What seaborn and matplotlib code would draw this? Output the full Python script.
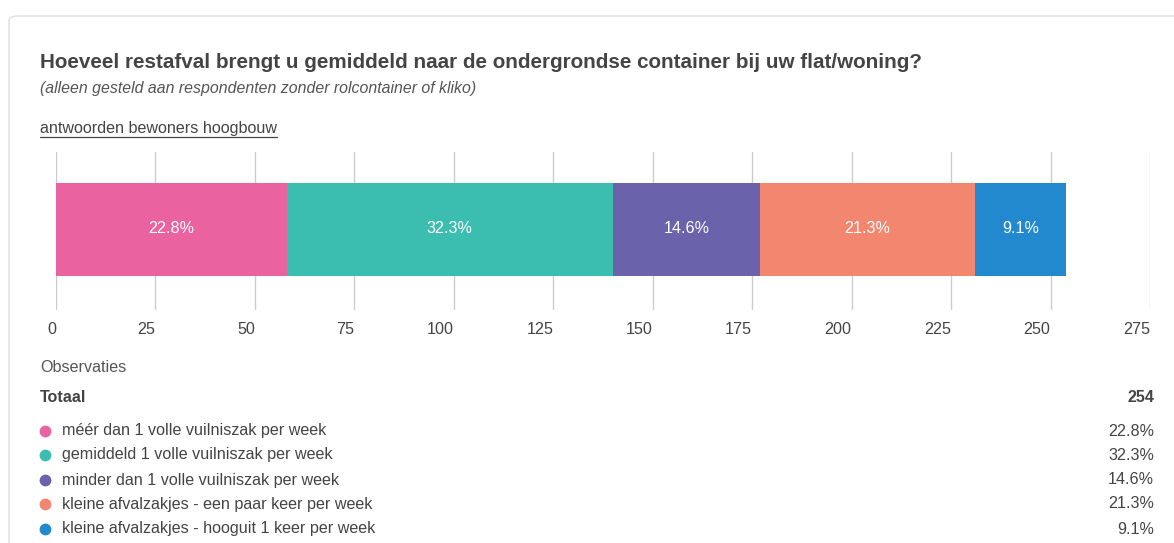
import matplotlib
matplotlib.use("Agg")
import matplotlib.pyplot as plt
from matplotlib.patches import FancyBboxPatch
import numpy as np
import pandas as pd
import seaborn as sns

# data
categories = [
    "méér dan 1 volle vuilniszak per week",
    "gemiddeld 1 volle vuilniszak per week",
    "minder dan 1 volle vuilniszak per week",
    "kleine afvalzakjes - een paar keer per week",
    "kleine afvalzakjes - hooguit 1 keer per week",
]
counts = [58, 82, 37, 54, 23]
percent_labels = ["22.8%", "32.3%", "14.6%", "21.3%", "9.1%"]
colors = ["#EA62A0", "#3BBEAF", "#6A63AC", "#F2866F", "#2289CF"]
xticks = [0, 25, 50, 75, 100, 125, 150, 175, 200, 225, 250, 275]
total = 254

sns.set_theme(style="white")
plt.rcParams["font.family"] = ["Liberation Sans", "DejaVu Sans"]

W, H = 1174, 543
fig = plt.figure(figsize=(W / 100, H / 100), dpi=100)
fig.patch.set_facecolor("white")

def fx(px):
    return px / W

def fy(py):
    return 1 - py / H

# card border
card = FancyBboxPatch((fx(9), fy(560)), fx(1200), fy(16) - fy(560),
                      boxstyle="round,pad=0,rounding_size=0.008",
                      transform=fig.transFigure, facecolor="none",
                      edgecolor="#e4e4e4", linewidth=1.2, zorder=-5)
fig.patches.append(card)

txt = "#444444"
fs = 11.6
fig.text(fx(40), fy(62), "Hoeveel restafval brengt u gemiddeld naar de ondergrondse container bij uw flat/woning?",
         fontsize=14.9, fontweight="bold", color=txt, va="center")
fig.text(fx(40), fy(88), "(alleen gesteld aan respondenten zonder rolcontainer of kliko)",
         fontsize=11.4, style="italic", color="#555555", va="center")
link = fig.text(fx(40), fy(128), "antwoorden bewoners hoogbouw", fontsize=fs, color=txt, va="center")

# underline for the link
fig.canvas.draw()
bb = link.get_window_extent()
fig.add_artist(plt.Line2D([bb.x0 / W, bb.x1 / W], [fy(137), fy(137)], transform=fig.transFigure,
                          color=txt, linewidth=0.9))

# stacked bar axis
ax = fig.add_axes([fx(56), fy(310), fx(1150) - fx(56), fy(152) - fy(310)])
ax.patch.set_alpha(0)
cum = np.cumsum(counts)
df = pd.DataFrame({"cum": cum, "row": ["a"] * len(cum)})
for i in range(len(cum) - 1, -1, -1):
    sns.barplot(data=df.iloc[[i]], x="cum", y="row", orient="h", color=colors[i],
                saturation=1, width=1.0, linewidth=0, ax=ax, zorder=2)
starts = np.concatenate([[0], cum[:-1]])
for s, c, lab in zip(starts, counts, percent_labels):
    ax.text(s + c / 2, -0.01, lab, color="white", ha="center", va="center", fontsize=fs, zorder=3)

ax.set_xlim(0, 275)
ax.set_ylim(0.87, -0.83)
ax.set_xticks(xticks)
ax.set_xticklabels([str(t) for t in xticks], ha="right")
ax.set_yticks([])
ax.set_xlabel("")
ax.set_ylabel("")
ax.grid(axis="x", color="#cccccc", linewidth=1, zorder=0)
ax.set_axisbelow(True)
for sp in ax.spines.values():
    sp.set_visible(False)
ax.tick_params(axis="x", length=0, pad=9, labelsize=fs, labelcolor=txt)

# observations table
fig.text(fx(40), fy(368), "Observaties", fontsize=fs, color="#555555", va="center")
fig.text(fx(40), fy(397), "Totaal", fontsize=fs, fontweight="bold", color=txt, va="center")
fig.text(fx(1154), fy(397), str(total), fontsize=fs, fontweight="bold", color=txt, va="center", ha="right")
row_y = [431, 455, 480, 504, 529]
for y, cat, col, lab in zip(row_y, categories, colors, percent_labels):
    fig.add_artist(plt.Line2D([fx(45)], [fy(y)], marker="o", markersize=8.5, color=col,
                              markeredgewidth=0, transform=fig.transFigure))
    fig.text(fx(62), fy(y), cat, fontsize=fs, color=txt, va="center")
    fig.text(fx(1154), fy(y), lab, fontsize=fs, color=txt, va="center", ha="right")

fig.savefig("out.png", dpi=100)
